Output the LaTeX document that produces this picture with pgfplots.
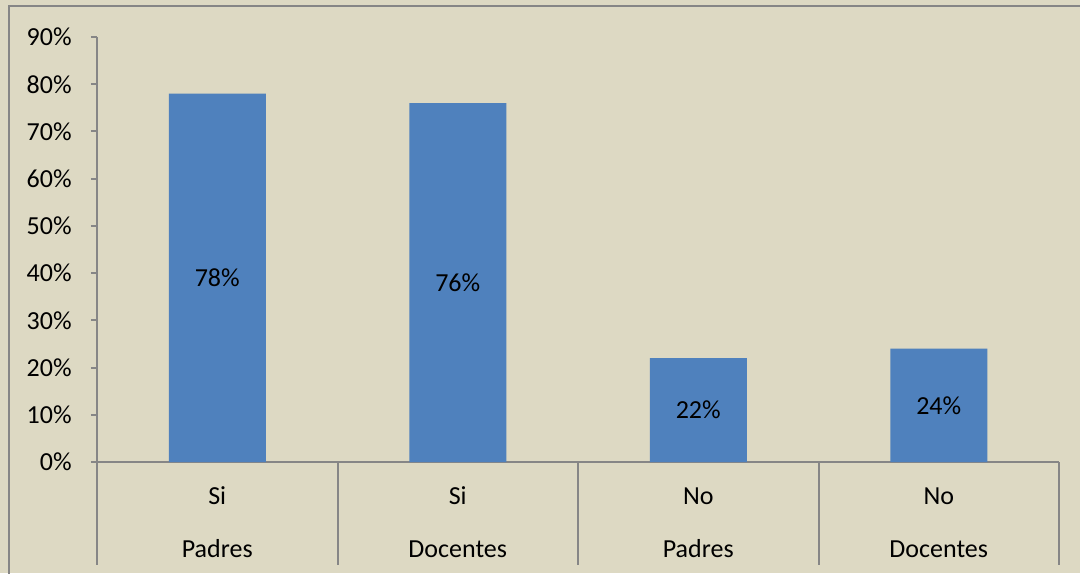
\documentclass[border=0pt]{standalone}
\usepackage{fontspec}
\setmainfont{Carlito}
\usepackage{pgfplots}
\pgfplotsset{compat=1.18}
\definecolor{bgtan}{RGB}{221,217,195}
\definecolor{barblue}{RGB}{79,129,189}
\definecolor{axgray}{RGB}{134,134,134}
\begin{document}
\begin{tikzpicture}[font=\fontsize{13}{16}\selectfont]
\useasboundingbox (-48.5pt,-55.5pt) rectangle (491.5pt,231pt);
\fill[bgtan] (-48.5pt,-55.5pt) rectangle (491.5pt,231pt);
\draw[axgray, line width=1pt] (-44pt,-80pt) rectangle (520pt,228pt);
\begin{axis}[
  scale only axis, width=481pt, height=212.5pt,
  xmin=0, xmax=4, ymin=0, ymax=90,
  axis x line*=bottom, axis y line*=left,
  axis line style={axgray, line width=1pt},
  ytick={0,10,...,90},
  yticklabel={\pgfmathprintnumber[assume math mode=true]{\tick}\%},
  xtick=\empty,
  tick align=outside, major tick length=3pt,
  tick style={axgray, line width=1pt},
  yticklabel style={anchor=east, inner sep=0pt, xshift=-9.5pt},
  clip=false,
]
\addplot[ybar, bar width=48.5pt, fill=barblue, draw=none]
  coordinates {(0.5,78) (1.5,76) (2.5,22) (3.5,24)};
\addplot[draw=none, nodes near coords, point meta=explicit symbolic,
  nodes near coords style={anchor=center, inner sep=0pt, text=black}]
  coordinates {(0.5,39)[78\%] (1.5,38)[76\%] (2.5,11)[22\%] (3.5,12)[24\%]};
\draw[axgray, line width=1pt] (axis cs:0,0) -- ++(0,-51.5pt);
\draw[axgray, line width=1pt] (axis cs:1,0) -- ++(0,-51.5pt);
\draw[axgray, line width=1pt] (axis cs:2,0) -- ++(0,-51.5pt);
\draw[axgray, line width=1pt] (axis cs:3,0) -- ++(0,-51.5pt);
\draw[axgray, line width=1pt] (axis cs:4,0) -- ++(0,-51.5pt);
\node[anchor=base, yshift=-21pt] at (axis cs:0.5,0) {Si};
\node[anchor=base, yshift=-21pt] at (axis cs:1.5,0) {Si};
\node[anchor=base, yshift=-21pt] at (axis cs:2.5,0) {No};
\node[anchor=base, yshift=-21pt] at (axis cs:3.5,0) {No};
\node[anchor=base, yshift=-47.5pt] at (axis cs:0.5,0) {Padres};
\node[anchor=base, yshift=-47.5pt] at (axis cs:1.5,0) {Docentes};
\node[anchor=base, yshift=-47.5pt] at (axis cs:2.5,0) {Padres};
\node[anchor=base, yshift=-47.5pt] at (axis cs:3.5,0) {Docentes};
\end{axis}
\end{tikzpicture}
\end{document}
